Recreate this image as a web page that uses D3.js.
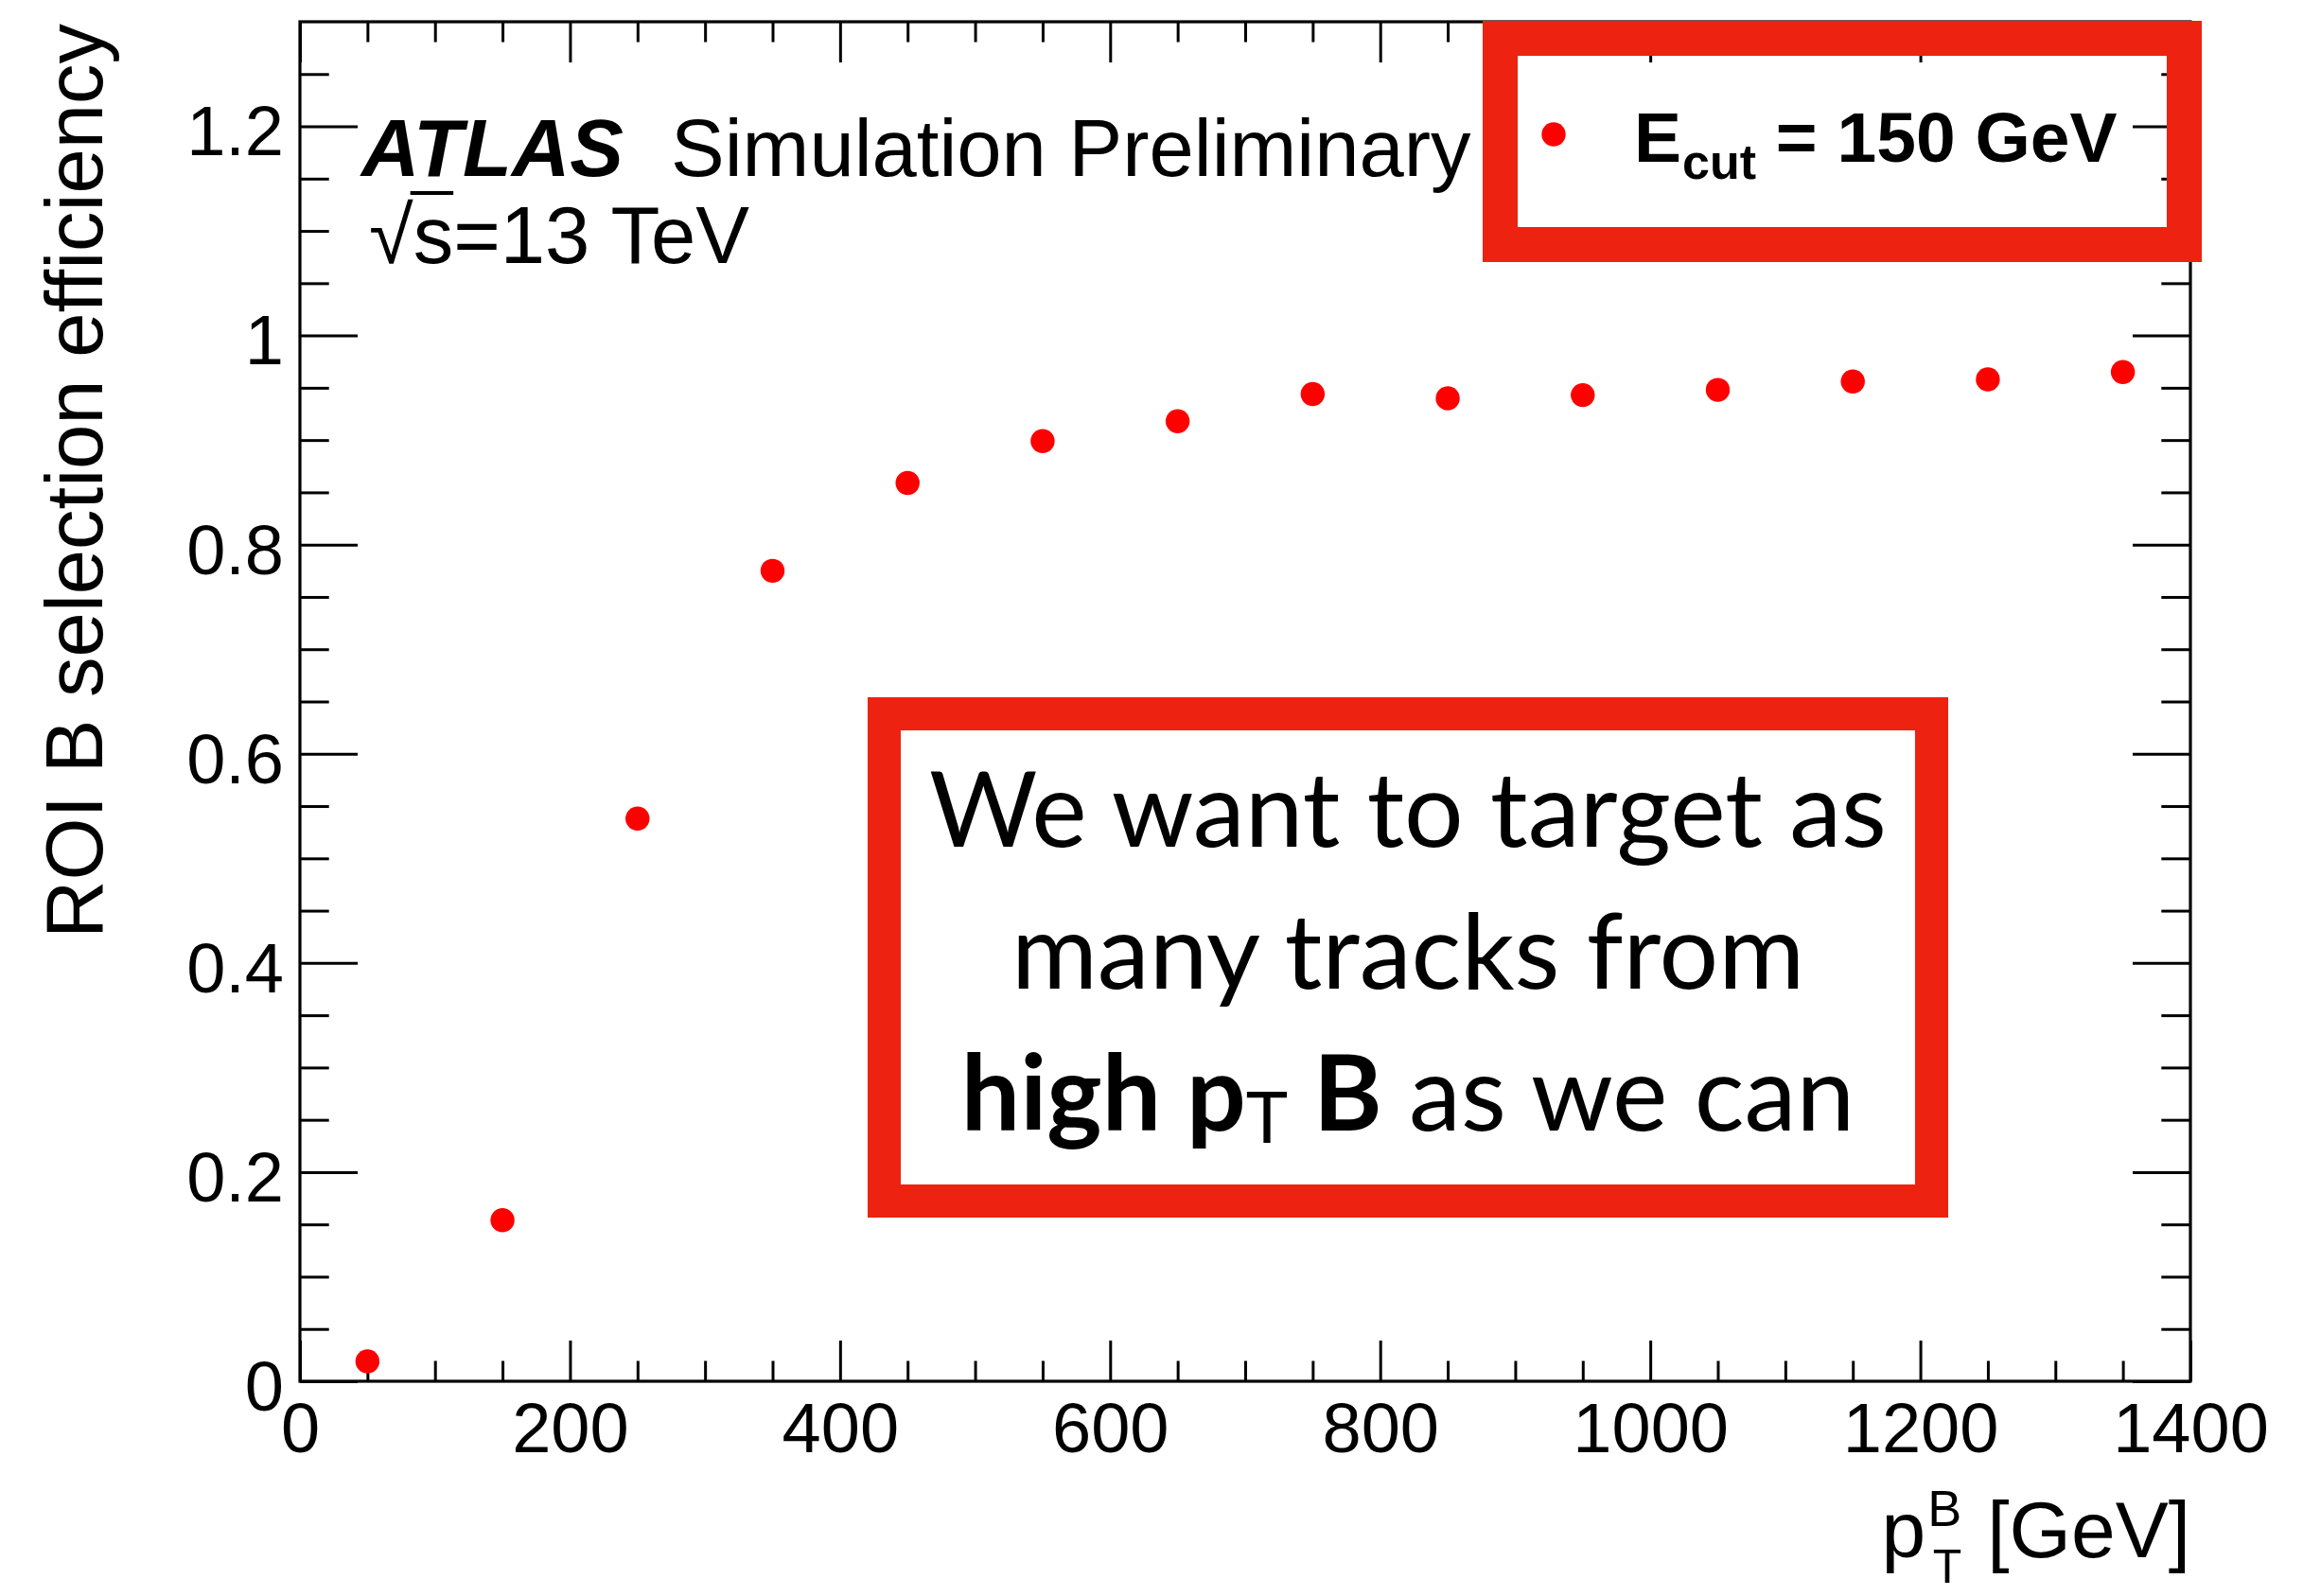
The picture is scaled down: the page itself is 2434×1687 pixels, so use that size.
<!DOCTYPE html>
<html>
<head>
<meta charset="utf-8">
<script src="https://cdn.jsdelivr.net/npm/d3@7"></script>
<style>
  html, body { margin: 0; padding: 0; background: #fff; }
  svg { display: block; }
</style>
</head>
<body>
<script>
// ---------------- data ----------------
const ptB = [50, 150, 250, 350, 450, 550, 650, 750, 850, 950, 1050, 1150, 1250, 1350];
const efficiency = [0.019, 0.154, 0.538, 0.775, 0.859, 0.899, 0.918, 0.944, 0.940, 0.943, 0.948, 0.956, 0.958, 0.965];
const xMajorTicks = [0, 200, 400, 600, 800, 1000, 1200, 1400];
const xTickLabels = ["0", "200", "400", "600", "800", "1000", "1200", "1400"];
const yMajorTicks = [0, 0.2, 0.4, 0.6, 0.8, 1.0, 1.2];
const yTickLabels = ["0", "0.2", "0.4", "0.6", "0.8", "1", "1.2"];
const xDomain = [0, 1400];
const yDomain = [0, 1.3];
const legendLabel = { main: "E", sub: "cut", rest: " = 150 GeV" };
const annotationLines = ["We want to target as", "many tracks from"];

// ---------------- layout ----------------
const W = 2434, H = 1687;
const L = 317, R = 2315, T = 23, B = 1460;
const ROOT_FONT = "'Liberation Sans', Arial, Helvetica, sans-serif";
const SLIDE_FONT = "Lato, 'Open Sans', sans-serif";
const RED_BOX = "#EE2211";

const svg = d3.select("body").append("svg").attr("width", W).attr("height", H);
svg.append("rect").attr("width", W).attr("height", H).attr("fill", "#fff");

const x = d3.scaleLinear().domain(xDomain).range([L, R]);
const y = d3.scaleLinear().domain(yDomain).range([B, T]);

const xMinor = d3.range(0, 1400 + 1, 50).filter(v => v % 200 !== 0);
const yMinor = d3.range(0, 26).map(i => +(i * 0.05).toFixed(2)).filter(v => Math.abs(v * 5 - Math.round(v * 5)) > 1e-6);

function styleAxis(g) {
  g.select(".domain").remove();
  g.selectAll(".tick line").attr("stroke", "#000").attr("stroke-width", 3);
}

// bottom axis
const gxB = svg.append("g").attr("transform", `translate(0,${B})`)
  .call(d3.axisBottom(x).tickValues(xMajorTicks).tickSize(-43).tickPadding(22)
    .tickFormat((d, i) => xTickLabels[i]));
styleAxis(gxB);
gxB.selectAll("text").attr("font-family", ROOT_FONT).attr("font-size", 74).attr("fill", "#000").attr("dy", "0.71em");
svg.append("g").attr("transform", `translate(0,${B})`)
  .call(d3.axisBottom(x).tickValues(xMinor).tickSize(-21.5).tickFormat(""))
  .call(styleAxis);
// top axis
svg.append("g").attr("transform", `translate(0,${T})`)
  .call(d3.axisTop(x).tickValues(xMajorTicks).tickSize(-43).tickFormat(""))
  .call(styleAxis);
svg.append("g").attr("transform", `translate(0,${T})`)
  .call(d3.axisTop(x).tickValues(xMinor).tickSize(-21.5).tickFormat(""))
  .call(styleAxis);
// left axis
const gyL = svg.append("g").attr("transform", `translate(${L},0)`)
  .call(d3.axisLeft(y).tickValues(yMajorTicks).tickSize(-61).tickPadding(17)
    .tickFormat((d, i) => yTickLabels[i]));
styleAxis(gyL);
gyL.selectAll("text").attr("font-family", ROOT_FONT).attr("font-size", 74).attr("fill", "#000").attr("dy", "0.41em");
svg.append("g").attr("transform", `translate(${L},0)`)
  .call(d3.axisLeft(y).tickValues(yMinor).tickSize(-30.7).tickFormat(""))
  .call(styleAxis);
// right axis
svg.append("g").attr("transform", `translate(${R},0)`)
  .call(d3.axisRight(y).tickValues(yMajorTicks).tickSize(-61).tickFormat(""))
  .call(styleAxis);
svg.append("g").attr("transform", `translate(${R},0)`)
  .call(d3.axisRight(y).tickValues(yMinor).tickSize(-30.7).tickFormat(""))
  .call(styleAxis);

// frame
svg.append("rect").attr("x", L).attr("y", T).attr("width", R - L).attr("height", B - T)
  .attr("fill", "none").attr("stroke", "#000").attr("stroke-width", 3.2);

// points
svg.append("g").selectAll("circle").data(ptB).join("circle")
  .attr("cx", d => x(d)).attr("cy", (d, i) => y(efficiency[i])).attr("r", 12.7).attr("fill", "#FF0000");

// axis titles
svg.append("text").attr("transform", "translate(108,25) rotate(-90)")
  .attr("text-anchor", "end").attr("font-family", ROOT_FONT).attr("font-size", 85).attr("fill", "#000")
  .text("ROI B selection efficiency");

const xTitleRest = svg.append("text").attr("x", R).attr("y", 1646).attr("text-anchor", "end")
  .attr("font-family", ROOT_FONT).attr("font-size", 84).attr("fill", "#000").text("[GeV]");
const restStart = R - xTitleRest.node().getComputedTextLength();
svg.append("text").attr("x", restStart - 27).attr("y", 1613).attr("text-anchor", "end")
  .attr("font-family", ROOT_FONT).attr("font-size", 54).attr("fill", "#000").text("B");
svg.append("text").attr("x", restStart - 27).attr("y", 1673).attr("text-anchor", "end")
  .attr("font-family", ROOT_FONT).attr("font-size", 50).attr("fill", "#000").text("T");
svg.append("text").attr("x", restStart - 27 - 38).attr("y", 1646).attr("text-anchor", "end")
  .attr("font-family", ROOT_FONT).attr("font-size", 84).attr("fill", "#000").text("p");

// ATLAS label
const atlas = svg.append("text").attr("x", 382).attr("y", 186).attr("font-family", ROOT_FONT)
  .attr("font-size", 85).attr("fill", "#000");
atlas.append("tspan").attr("font-weight", "bold").attr("font-style", "italic").text("ATLAS");
svg.append("text").attr("x", 709).attr("y", 186).attr("font-family", ROOT_FONT)
  .attr("font-size", 85).attr("fill", "#000").text("Simulation Preliminary");
const sqrtT = svg.append("text").attr("x", 390).attr("y", 278).attr("font-family", ROOT_FONT)
  .attr("font-size", 85).attr("fill", "#000").text("\u221As=13 TeV");
{
  const n = sqrtT.node();
  const e0 = n.getExtentOfChar(0), e1 = n.getExtentOfChar(1);
  svg.append("line").attr("x1", e0.x + e0.width - 3).attr("x2", e1.x + e1.width)
    .attr("y1", 204).attr("y2", 204).attr("stroke", "#000").attr("stroke-width", 4);
}

// legend
svg.append("rect").attr("x", 1567 + 18.5).attr("y", 22 + 18.5).attr("width", 2327 - 1567 - 37)
  .attr("height", 277 - 22 - 37).attr("fill", "none").attr("stroke", RED_BOX).attr("stroke-width", 37);
svg.append("circle").attr("cx", 1642).attr("cy", 142).attr("r", 12.7).attr("fill", "#FF0000");
const leg = svg.append("text").attr("x", 1727).attr("y", 171).attr("font-family", ROOT_FONT)
  .attr("font-weight", "bold").attr("font-size", 75).attr("fill", "#000");
leg.append("tspan").text(legendLabel.main);
leg.append("tspan").attr("font-size", 52).attr("dy", 18).attr("dx", 1).text(legendLabel.sub);
leg.append("tspan").attr("dy", -18).text(legendLabel.rest);

// annotation box
svg.append("rect").attr("x", 917 + 17.5).attr("y", 737 + 17.5).attr("width", 2059 - 917 - 35)
  .attr("height", 1287 - 737 - 35).attr("fill", "#fff").attr("stroke", RED_BOX).attr("stroke-width", 35);
const cx = (917 + 2059) / 2;
const probe = svg.append("text").attr("font-family", SLIDE_FONT).attr("font-size", 100).text(annotationLines[0]);
const fs = 100 * 1012 / probe.node().getComputedTextLength();
probe.remove();
const baselines = [895, 1045, 1195];
annotationLines.forEach((t, i) => {
  svg.append("text").attr("x", cx).attr("y", baselines[i]).attr("text-anchor", "middle")
    .attr("font-family", SLIDE_FONT).attr("font-size", fs).attr("fill", "#000").text(t);
});
const l3 = svg.append("text").attr("x", cx).attr("y", baselines[2]).attr("text-anchor", "middle")
  .attr("font-family", SLIDE_FONT).attr("font-size", fs).attr("fill", "#000");
l3.append("tspan").attr("font-weight", "bold").text("high p");
l3.append("tspan").attr("font-size", fs * 0.68).attr("dy", 13).text("T");
l3.append("tspan").attr("font-weight", "bold").attr("dy", -13).text(" B");
l3.append("tspan").text(" as we can");
</script>
</body>
</html>
